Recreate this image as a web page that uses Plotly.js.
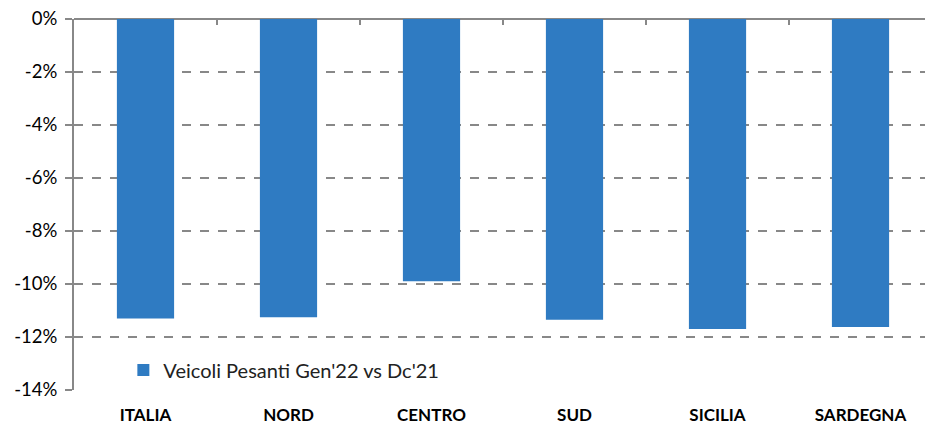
<!DOCTYPE html>
<html>
<head>
<meta charset="utf-8">
<script src="https://cdn.plot.ly/plotly-3.0.1.min.js"></script>
<style>html,body{margin:0;padding:0;background:#fff;}#chart{width:925px;height:424px;}</style>
</head>
<body>
<div id="chart"></div>
<script>
const categories = ["ITALIA", "NORD", "CENTRO", "SUD", "SICILIA", "SARDEGNA"];
const values = [-11.3, -11.25, -9.9, -11.35, -11.7, -11.62];
const seriesName = "Veicoli Pesanti Gen'22 vs Dc'21";
const yTickVals = [0, -2, -4, -6, -8, -10, -12, -14];
const yTickText = ["0%", "-2%", "-4%", "-6%", "-8%", "-10%", "-12%", "-14%"];

const trace = {
  type: "bar",
  x: categories,
  y: values,
  name: seriesName,
  marker: {color: "#2F7BC2"},
  width: 0.4,
  showlegend: true,
  hoverinfo: "x+y"
};
// invisible helper trace on a numeric top axis, used only for the category-boundary ticks
const idx = categories.map((c, i) => i);
const boundaries = idx.slice(1).map(i => i - 0.5);
const helper = {
  type: "scatter", mode: "markers",
  x: idx, y: values,
  xaxis: "x2", yaxis: "y",
  marker: {opacity: 0},
  showlegend: false, hoverinfo: "skip"
};

const xRange = [-0.5, 5.451];

const layout = {
  width: 925, height: 424,
  margin: {l: 74, r: 0, t: 19, b: 34},
  paper_bgcolor: "#fff", plot_bgcolor: "#fff",
  font: {family: "Lato, 'Open Sans', sans-serif", color: "#000"},
  showlegend: true,
  legend: {
    x: 0.058, y: 0.054, xanchor: "left", yanchor: "middle",
    bgcolor: "rgba(0,0,0,0)",
    font: {size: 20, family: "Lato, sans-serif", color: "#222"},
    itemwidth: 30
  },
  xaxis: {
    type: "category", range: xRange,
    showgrid: false, showline: false, zeroline: false,
    ticks: "",
    side: "bottom",
    ticklabelstandoff: 13,
    tickfont: {size: 17, family: "Lato, sans-serif", weight: "bold", color: "#000"}
  },
  xaxis2: {
    type: "linear", range: xRange,
    overlaying: "x", side: "top", anchor: "y",
    showgrid: false, showline: false, zeroline: false,
    tickmode: "array", tickvals: boundaries,
    ticks: "inside", ticklen: 6, tickwidth: 2, tickcolor: "#888",
    showticklabels: false
  },
  yaxis: {
    range: [-14, 0],
    tickvals: yTickVals, ticktext: yTickText,
    showgrid: true, gridcolor: "#888", griddash: "dash", gridwidth: 1.5,
    zeroline: true, zerolinecolor: "#888", zerolinewidth: 2,
    showline: true, linecolor: "#888", linewidth: 2,
    ticks: "outside", ticklen: 7, tickcolor: "#888", tickwidth: 2,
    tickfont: {size: 18.5, family: "Lato, sans-serif", color: "#000"},
    ticklabelstandoff: 4
  }
};

Plotly.newPlot("chart", [trace, helper], layout, {displayModeBar: false, staticPlot: true});
</script>
</body>
</html>
